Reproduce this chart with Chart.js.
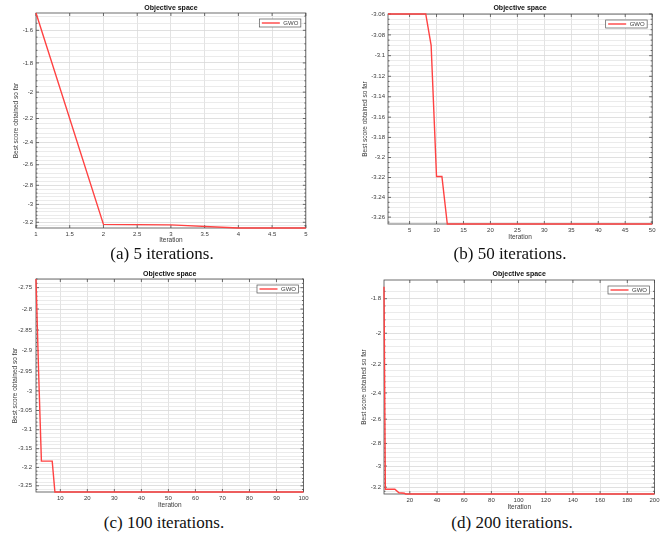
<!DOCTYPE html>
<html>
<head>
<meta charset="utf-8">
<script src="https://cdn.jsdelivr.net/npm/chart.js@4.4.1/dist/chart.umd.min.js"></script>
<style>
  body { margin: 0; background: #fff; }
  #wrap { position: relative; width: 670px; height: 539px; overflow: hidden; }
  canvas { position: absolute; }
  .cap { position: absolute; width: 240px; text-align: center; font-family: "Liberation Serif", "Times New Roman", serif; font-size: 17px; line-height: 20px; color: #111; }
</style>
</head>
<body>
<div id="wrap">
  <canvas id="pa"></canvas>
  <canvas id="pb"></canvas>
  <canvas id="pc"></canvas>
  <canvas id="pd"></canvas>
  <div class="cap" id="capa">(a) 5 iterations.</div>
  <div class="cap" id="capb">(b) 50 iterations.</div>
  <div class="cap" id="capc">(c) 100 iterations.</div>
  <div class="cap" id="capd">(d) 200 iterations.</div>
</div>
<script>
// convergence curves (best score so far), read at the iterations where the curve changes
const iterA = [1, 2, 3, 4, 5];
const scoreA = [-1.503, -3.225, -3.23, -3.267, -3.267];
const iterB = [1, 8, 9, 10, 11, 12, 50];
const scoreB = [-3.06, -3.06, -3.09, -3.219, -3.219, -3.267, -3.267];
const iterC = [1, 2, 3, 7, 8, 100];
const scoreC = [-2.73, -2.96, -3.183, -3.183, -3.267, -3.267];
const iterD = [1, 2, 9, 12, 16, 17, 200];
const scoreD = [-1.735, -3.22, -3.22, -3.255, -3.26, -3.267, -3.267];

// tick labels
const xTicksA = [1, 1.5, 2, 2.5, 3, 3.5, 4, 4.5, 5];
const xTicksB = [5, 10, 15, 20, 25, 30, 35, 40, 45, 50];
const xTicksC = [10, 20, 30, 40, 50, 60, 70, 80, 90, 100];
const xTicksD = [20, 40, 60, 80, 100, 120, 140, 160, 180, 200];
const yTicksA = [-1.6, -1.8, -2, -2.2, -2.4, -2.6, -2.8, -3, -3.2];
const yTicksB = [-3.06, -3.08, -3.1, -3.12, -3.14, -3.16, -3.18, -3.2, -3.22, -3.24, -3.26];
const yTicksC = [-2.75, -2.8, -2.85, -2.9, -2.95, -3, -3.05, -3.1, -3.15, -3.2, -3.25];
const yTicksD = [-1.8, -2, -2.2, -2.4, -2.6, -2.8, -3, -3.2];

const seriesName = 'GWO';

// canvas placement (px) for each panel
const geo = {
  pa: {left: 0,   top: 0,   w: 310, h: 246, padL: 12, padR: 3, yw: 24, xh: 18, tTop: 3.5, tBot: 1.1, yPad: 3},
  pb: {left: 340, top: 0,   w: 318, h: 243, padL: 21, padR: 4, yw: 27, xh: 19, tTop: 4, tBot: 1.6, yPad: 3},
  pc: {left: 0,   top: 266, w: 311, h: 245, padL: 11, padR: 6, yw: 25, xh: 19, tTop: 4, tBot: 0.6, yPad: 4},
  pd: {left: 340, top: 266, w: 322, h: 247, padL: 20, padR: 6, yw: 24, xh: 19, tTop: 4, tBot: 1.6, yPad: 3}
};
const caps = {capa: [162, 254], capb: [510, 254], capc: [164, 523], capd: [512, 523]};

const FONT = '"Liberation Sans", Arial, Helvetica, sans-serif';
const RED = '#ff4242';
const TXT = '#3a3a3a';
Chart.defaults.font.family = FONT;

for (const [id, [cx, cy]] of Object.entries(caps)) {
  const el = document.getElementById(id);
  el.style.left = (cx - 120) + 'px';
  el.style.top = (cy - 10) + 'px';
}

// scores are negative; MATLAB drew them on a log axis, so plot |score| on a reversed log scale
function yTickList(majors, lo, hi, parts) {
  const abs = majors.map(v => -v);
  const step = Math.abs(abs[1] - abs[0]) / parts;
  const out = abs.map(v => ({value: v, minor: false}));
  for (let k = Math.ceil(lo / step - 1e-6); k * step <= hi + 1e-9; k++) {
    const v = +(k * step).toFixed(5);
    if (abs.some(m => Math.abs(m - v) < step / 10)) continue;
    out.push({value: v, minor: true});
  }
  return out.sort((a, b) => a.value - b.value);
}

const fmt = v => String(+v.toFixed(3));

const axesBox = {
  id: 'axesBox',
  beforeDatasetsDraw(chart) {
    const {ctx, chartArea: a, scales: {x, y}} = chart;
    ctx.save();
    ctx.strokeStyle = '#4a4a4a';
    ctx.lineWidth = 0.8;
    ctx.beginPath();
    x.ticks.forEach(t => {
      const px = x.getPixelForValue(t.value);
      ctx.moveTo(px, a.bottom); ctx.lineTo(px, a.bottom - 3);
      ctx.moveTo(px, a.top); ctx.lineTo(px, a.top + 3);
    });
    y.ticks.forEach(t => {
      const py = y.getPixelForValue(t.value);
      const len = t.minor ? 1.5 : 3;
      ctx.moveTo(a.left, py); ctx.lineTo(a.left + len, py);
      ctx.moveTo(a.right, py); ctx.lineTo(a.right - len, py);
    });
    ctx.stroke();
    ctx.strokeRect(a.left, a.top, a.right - a.left, a.bottom - a.top);
    ctx.restore();
  },
  afterDraw(chart) {
    const {ctx, chartArea: a} = chart;
    const label = chart.data.datasets[0].label;
    ctx.save();
    ctx.font = '6px ' + FONT;
    const tw = ctx.measureText(label).width;
    const bw = 24 + tw + 2.5, bh = 8;
    const bx = a.right - 5 - bw, by = a.top + 6;
    ctx.fillStyle = '#fff';
    ctx.fillRect(bx, by, bw, bh);
    ctx.strokeStyle = '#555';
    ctx.lineWidth = 0.7;
    ctx.strokeRect(bx, by, bw, bh);
    ctx.strokeStyle = RED;
    ctx.lineWidth = 1.4;
    ctx.beginPath();
    ctx.moveTo(bx + 2.5, by + bh / 2);
    ctx.lineTo(bx + 20.5, by + bh / 2);
    ctx.stroke();
    ctx.fillStyle = TXT;
    ctx.textBaseline = 'middle';
    ctx.fillText(label, bx + 24, by + bh / 2 + 0.3);
    ctx.restore();
  }
};

function makePanel(id, iters, scores, xTicks, yTicks, minorParts) {
  const g = geo[id];
  const cv = document.getElementById(id);
  cv.width = g.w; cv.height = g.h;
  cv.style.left = g.left + 'px'; cv.style.top = g.top + 'px';
  cv.style.width = g.w + 'px'; cv.style.height = g.h + 'px';

  const absScores = scores.map(v => -v);
  const lo = Math.min(...absScores), hi = Math.max(...absScores);
  const yList = yTickList(yTicks, lo, hi, minorParts);

  return new Chart(cv, {
    type: 'line',
    data: {
      datasets: [{
        label: seriesName,
        data: iters.map((it, i) => ({x: it, y: absScores[i]})),
        borderColor: RED,
        borderWidth: 1.4,
        pointRadius: 0,
        tension: 0,
        fill: false,
        clip: 2
      }]
    },
    options: {
      responsive: false,
      animation: false,
      events: [],
      layout: {padding: {left: g.padL, right: g.padR, top: 0, bottom: 0}},
      plugins: {
        legend: {display: false},
        tooltip: {enabled: false},
        title: {
          display: true,
          text: 'Objective space',
          fullSize: false,
          color: '#111',
          font: {size: 7, weight: 'bold'},
          padding: {top: g.tTop, bottom: g.tBot}
        }
      },
      scales: {
        x: {
          type: 'linear',
          min: iters[0],
          max: iters[iters.length - 1],
          afterBuildTicks: s => { s.ticks = xTicks.map(v => ({value: v})); },
          afterFit: s => { s.height = g.xh; },
          ticks: {autoSkip: false, maxRotation: 0, padding: 2.5, color: TXT, font: {size: 6}, callback: v => fmt(v)},
          grid: {color: '#dcdcdc', lineWidth: 0.8, drawTicks: false},
          border: {display: false},
          title: {display: true, text: 'Iteration', color: TXT, font: {size: 6.5}, padding: {top: 0, bottom: 2}}
        },
        y: {
          type: 'logarithmic',
          reverse: true,
          min: lo,
          max: hi,
          afterBuildTicks: s => { s.ticks = yList.map(t => ({value: t.value, minor: t.minor})); },
          afterFit: s => { s.width = g.yw; },
          ticks: {
            autoSkip: false, padding: g.yPad, color: TXT, font: {size: 6},
            callback: (v, i, t) => t[i].minor ? '' : '-' + fmt(v)
          },
          grid: {
            color: c => (c.tick && c.tick.minor) ? '#e6e6e6' : '#d8d8d8',
            lineWidth: 0.8,
            drawTicks: false
          },
          border: {display: false},
          title: {display: true, text: 'Best score obtained so far', color: TXT, font: {size: 6.5}, padding: {top: 0, bottom: 0}}
        }
      }
    },
    plugins: [axesBox]
  });
}

makePanel('pa', iterA, scoreA, xTicksA, yTicksA, 5);
makePanel('pb', iterB, scoreB, xTicksB, yTicksB, 4);
makePanel('pc', iterC, scoreC, xTicksC, yTicksC, 5);
makePanel('pd', iterD, scoreD, xTicksD, yTicksD, 5);
</script>
</body>
</html>
